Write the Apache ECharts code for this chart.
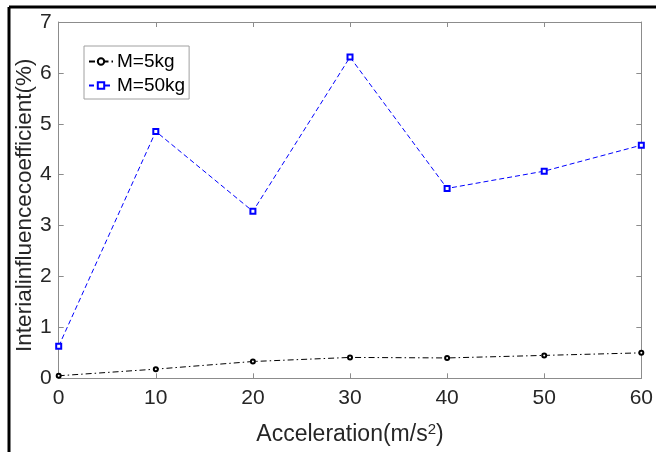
<!DOCTYPE html>
<html>
<head>
<meta charset="utf-8">
<script src="https://cdn.jsdelivr.net/npm/echarts@6/dist/echarts.min.js"></script>
<style>html,body{margin:0;padding:0;background:#fff}#c{width:656px;height:452px}</style>
</head>
<body>
<div id="c"></div>
<script>
const accel = [0, 10, 20, 30, 40, 50, 60];
const m5 = [0.05, 0.18, 0.33, 0.41, 0.40, 0.45, 0.50];
const m50 = [0.63, 4.85, 3.28, 6.31, 3.73, 4.07, 4.58];
const xTicks = [0, 10, 20, 30, 40, 50, 60];
const yTicks = [0, 1, 2, 3, 4, 5, 6, 7];

const chart = echarts.init(document.getElementById('c'), null, {renderer: 'canvas'});
const font = 'Liberation Sans, Arial, sans-serif';
const axisCol = '#8c8c8c';
const txtCol = '#262626';
const baseAxis = {
  axisLine: {show: true, onZero: false, lineStyle: {color: axisCol, width: 1}},
  axisTick: {show: true, inside: true, length: 5, lineStyle: {color: axisCol}},
  splitLine: {show: false},
};
chart.setOption({
  animation: false,
  backgroundColor: '#fff',
  grid: {left: 58.7, right: 12.7, top: 22, bottom: 73.7, containLabel: false},
  legend: {
    left: 84, top: 46, orient: 'vertical', itemGap: 5, itemWidth: 24, itemHeight: 8,
    padding: [6, 4, 4, 4], borderColor: '#a0a0a0', borderWidth: 1, backgroundColor: '#fff',
    textStyle: {fontFamily: font, fontSize: 19, color: '#000', padding: [0, 0, 0, -1]},
    data: ['M=5kg', 'M=50kg']
  },
  xAxis: [
    Object.assign({}, baseAxis, {
      type: 'value', min: 0, max: 60, interval: 10, position: 'bottom',
      axisLabel: {fontFamily: font, fontSize: 21, color: txtCol, margin: 9},
      name: 'Acceleration(m/s{sup|2})', nameLocation: 'middle', nameGap: 44, nameMoveOverlap: false,
      nameTextStyle: {fontFamily: font, fontSize: 23, color: txtCol,
        rich: {sup: {fontFamily: font, fontSize: 15, color: txtCol, verticalAlign: 'top', padding: [0, 0, 10, 0]}}}
    }),
    Object.assign({}, baseAxis, {
      type: 'value', min: 0, max: 60, interval: 10, position: 'top', axisLabel: {show: false}
    })
  ],
  yAxis: [
    Object.assign({}, baseAxis, {
      type: 'value', min: 0, max: 7, interval: 1, position: 'left',
      axisLabel: {fontFamily: font, fontSize: 21, color: txtCol, margin: 7},
      name: 'Interialinfluencecoefficient(%)', nameLocation: 'middle', nameGap: 22, nameMoveOverlap: false,
      nameTextStyle: {fontFamily: font, fontSize: 22.5, color: txtCol, padding: [0, 10, 0, 0]}
    }),
    Object.assign({}, baseAxis, {
      type: 'value', min: 0, max: 7, interval: 1, position: 'right', axisLabel: {show: false}
    })
  ],
  series: [
    {
      name: 'M=5kg', type: 'line', xAxisIndex: 0, yAxisIndex: 0,
      data: accel.map((a, i) => [a, m5[i]]),
      symbol: 'emptyCircle', symbolSize: 4,
      itemStyle: {color: '#000', borderWidth: 1.5},
      lineStyle: {color: '#000', width: 1, type: [6, 3, 1.5, 3]}
    },
    {
      name: 'M=50kg', type: 'line', xAxisIndex: 0, yAxisIndex: 0,
      data: accel.map((a, i) => [a, m50[i]]),
      symbol: 'emptyRect', symbolSize: 5,
      itemStyle: {color: '#0000ff', borderWidth: 1},
      lineStyle: {color: '#0000ff', width: 1, type: [5, 3]}
    }
  ],
  graphic: [
    {type: 'line', shape: {x1: 9, y1: 7, x2: 656, y2: 7}, style: {stroke: '#000', lineWidth: 3}},
    {type: 'line', shape: {x1: 9, y1: 7, x2: 9, y2: 452}, style: {stroke: '#000', lineWidth: 3}}
  ]
});
</script>
</body>
</html>
